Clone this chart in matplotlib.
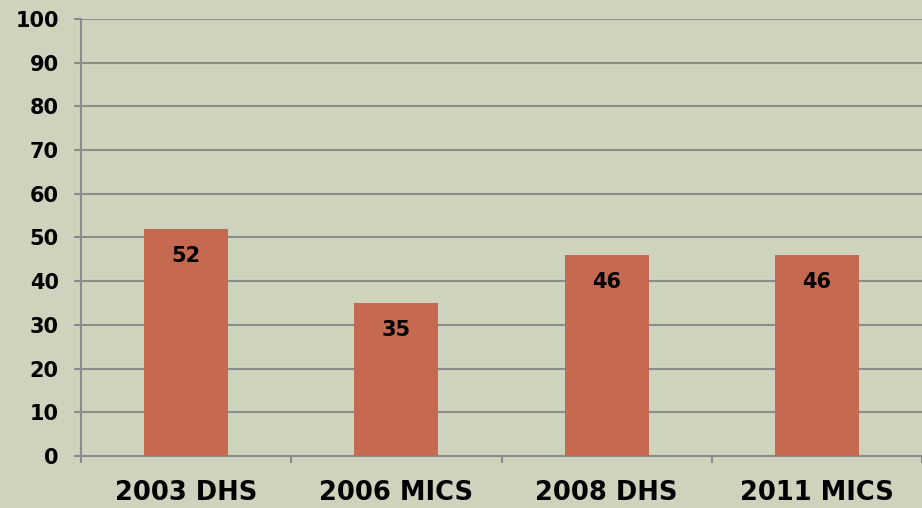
import numpy as np
import matplotlib.pyplot as plt

# dados do gráfico
pesquisas = ['2003 DHS', '2006 MICS', '2008 DHS', '2011 MICS']
valores = [52, 35, 46, 46]

fundo = '#CDD3BC'
cor_barra = '#C56A50'
cor_grade = '#8C8C8C'

plt.rcParams['font.family'] = ['DejaVu Sans']

fig = plt.figure(figsize=(9.22, 5.08), dpi=100, facecolor=fundo)
ax = fig.add_axes([81 / 922, 52 / 508, 1 - 81 / 922, (456 - 19) / 508])
ax.set_facecolor(fundo)

x = np.arange(len(pesquisas))
barras = ax.bar(x, valores, width=0.4, color=cor_barra, zorder=3)

# valores escritos dentro das barras
for b, v in zip(barras, valores):
    ax.annotate(str(v), (b.get_x() + b.get_width() / 2, v), xytext=(0, -27),
                textcoords='offset pixels', ha='center', va='center',
                fontsize=15, fontweight='bold', zorder=4)

ax.set_ylim(0, 100)
ax.set_xlim(-0.5, len(pesquisas) - 0.5)
ax.set_yticks(range(0, 101, 10))
ax.yaxis.grid(True, color=cor_grade, linewidth=1.5, zorder=0)
ax.tick_params(axis='y', length=5, width=1.5, color=cor_grade, labelsize=15, pad=11)
for lbl in ax.get_yticklabels():
    lbl.set_fontweight('bold')

# rótulos das categorias nos centros, marcas nos limites
ax.set_xticks(x)
ax.set_xticklabels(pesquisas, fontsize=18.5, fontweight='bold')
ax.tick_params(axis='x', length=0, pad=17)
ax.set_xticks(np.arange(-0.5, len(pesquisas)), minor=True)
ax.tick_params(axis='x', which='minor', length=5, width=1.5, color=cor_grade)

for lado in ['top', 'right']:
    ax.spines[lado].set_visible(False)
for lado in ['left', 'bottom']:
    ax.spines[lado].set_color(cor_grade)
    ax.spines[lado].set_linewidth(1.5)
ax.spines['left'].set_zorder(5)

plt.savefig('out.png', dpi=100, facecolor=fundo)
